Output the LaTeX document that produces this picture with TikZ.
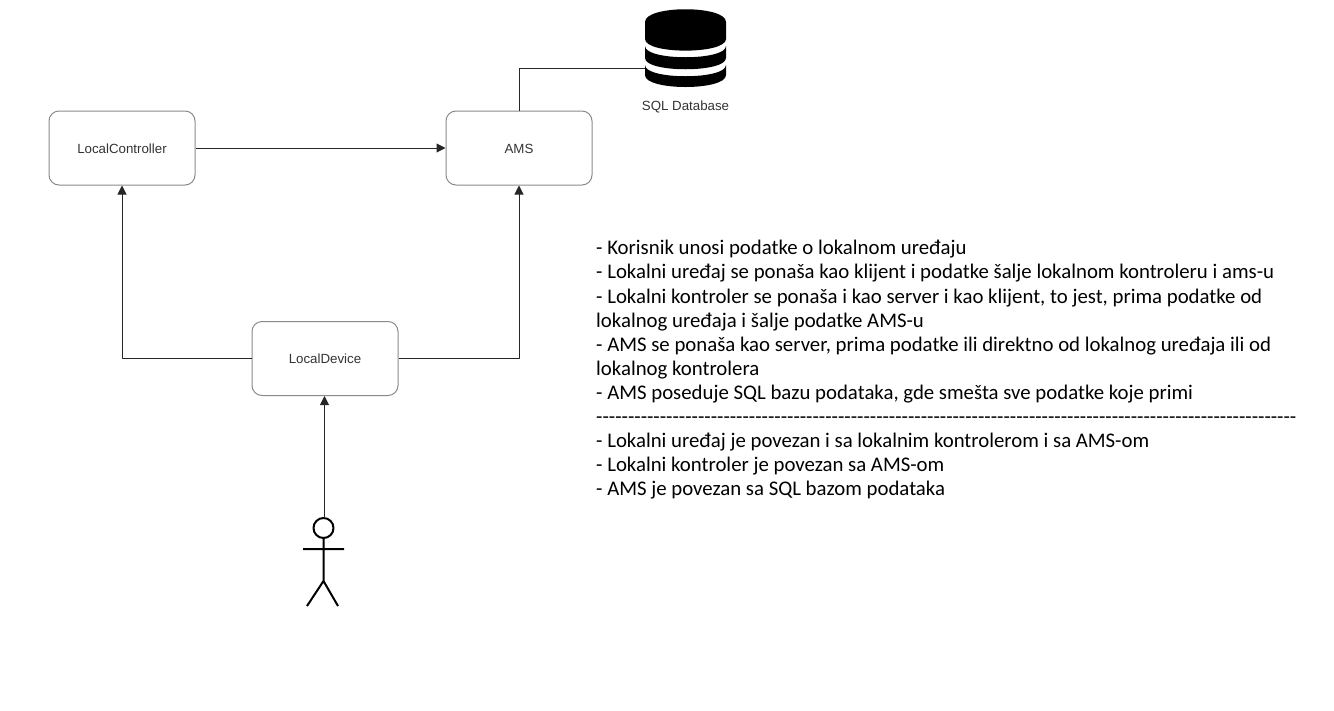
\documentclass[tikz,border=0pt]{standalone}
\usepackage{fontspec}
\setsansfont{Liberation Sans}
\newfontfamily\notefont{Carlito}
\usetikzlibrary{arrows.meta}
\definecolor{boxline}{HTML}{8A8A8A}
\definecolor{boxtext}{HTML}{333333}
\begin{document}
\begin{tikzpicture}[x=1pt, y=-1pt, line join=round, >={Triangle[length=9pt,width=9pt]}]
            \tikzset{box/.style={draw=boxline, line width=1pt, rounded corners=10pt, minimum width=146pt, minimum height=74pt, inner sep=0pt, text height=10.5pt, text depth=0pt, font=\sffamily\fontsize{13.3}{15}\selectfont, text=boxtext},
                link/.style={draw=black!85, line width=1pt},
                figure/.style={line width=2pt, black}}
            \useasboundingbox (0,0) rectangle (1334,710);
            \node[box] (ctrl) at (122,148) {LocalController};
            \node[box] (ams) at (519,148) {AMS};
            \node[box] (dev) at (325,358.5) {LocalDevice};
            % database icon
            \fill (645,22) .. controls (645,5) and (726,5) .. (726,22) -- (726,39) .. controls (726,54.5) and (645,54.5) .. (645,39) -- cycle;
            \fill (645,46) .. controls (645,61) and (726,61) .. (726,46) -- (726,58) .. controls (726,73) and (645,73) .. (645,58) -- cycle;
            \fill (645,65) .. controls (645,80) and (726,80) .. (726,65) -- (726,75) .. controls (726,91) and (645,91) .. (645,75) -- cycle;
            \coordinate (dbin) at (645,68);
            \node[font=\sffamily\fontsize{13.3}{15}\selectfont, text=boxtext] (dblabel) at (685.5,106.5) {SQL Database};
            % stick figure
            \draw[figure] (323.5,528) circle (10);
            \draw[figure] (323.5,538) -- (323.5,581) (303,549) -- (344,549) (307,606) -- (323.5,581) -- (338,606);
            \coordinate (head) at (324.5,518);
            \draw[link,->] (ctrl) -- (ams);
            \draw[link,->] (dev.west) -| (ctrl.south);
            \draw[link,->] (dev.east) -| (ams.south);
            \draw[link,->] (head) -- (head|-dev.south);
            \draw[link] (ams.north) |- (dbin);
            % notes on the right
            \node[anchor=north west, inner sep=0pt, align=left, font=\notefont\fontsize{20.8}{24.03}\selectfont] (notes) at (596,240.3) {- Korisnik unosi podatke o lokalnom uređaju\\
                - Lokalni uređaj se ponaša kao klijent i podatke šalje lokalnom kontroleru i ams-u\\
                - Lokalni kontroler se ponaša i kao server i kao klijent, to jest, prima podatke od\\
                lokalnog uređaja i šalje podatke AMS-u\\
                - AMS se ponaša kao server, prima podatke ili direktno od lokalnog uređaja ili od\\
                lokalnog kontrolera\\
                - AMS poseduje SQL bazu podataka, gde smešta sve podatke koje primi\\
                --------------------------------------------------------------------------------------------------------------\\
                - Lokalni uređaj je povezan i sa lokalnim kontrolerom i sa AMS-om\\
                - Lokalni kontroler je povezan sa AMS-om\\
                - AMS je povezan sa SQL bazom podataka};
        \end{tikzpicture}
\end{document}
